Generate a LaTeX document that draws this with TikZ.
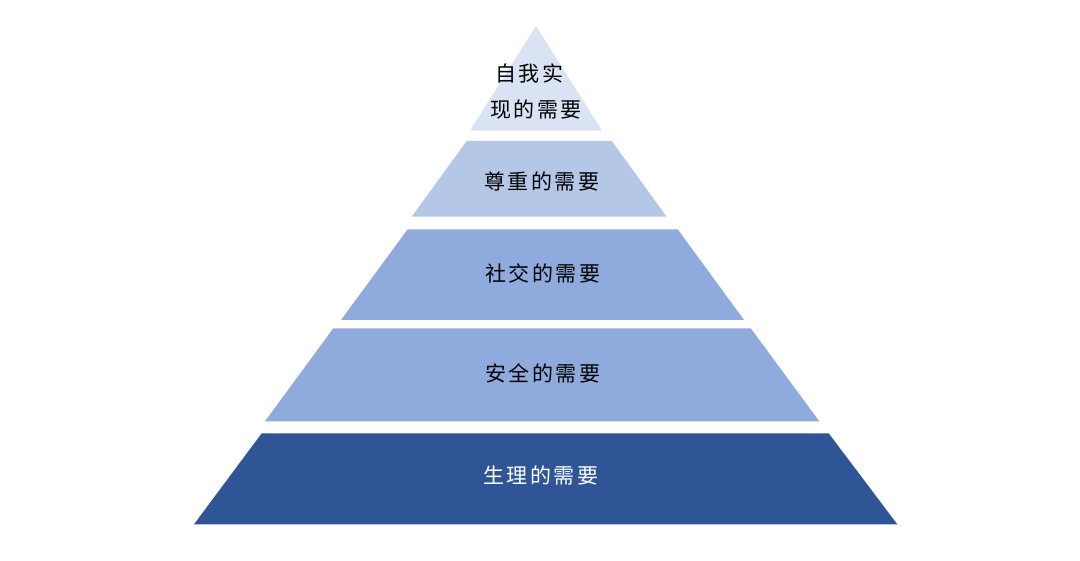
\documentclass[tikz,border=0pt]{standalone}
\usepackage{fontspec}
\newfontfamily\cjk[LetterSpace=12]{Noto Sans CJK SC}
\definecolor{lvA}{HTML}{DAE3F3}
\definecolor{lvB}{HTML}{B4C7E7}
\definecolor{lvC}{HTML}{8FAADC}
\definecolor{lvD}{HTML}{2F5597}
\begin{document}
\begin{tikzpicture}[x=1pt,y=-1pt,
  lbl/.style={font=\cjk\fontsize{21}{27}\selectfont, inner sep=0pt, align=left}]
\useasboundingbox (0,0) rectangle (1080,561);
\fill[white] (0,0) rectangle (1080,561);
% levels
\fill[lvA] (536,26) -- (602,130.7) -- (470,130.7) -- cycle;
\fill[lvB] (466.7,141) -- (611.7,141) -- (666.7,216.7) -- (411.7,216.7) -- cycle;
\fill[lvC] (407.7,229.3) -- (677.7,229.3) -- (744,320) -- (341,320) -- cycle;
\fill[lvC] (333.3,328.3) -- (750.7,328.3) -- (819.3,421.3) -- (265,421.3) -- cycle;
\fill[lvD] (261.7,433.3) -- (828.7,433.3) -- (897.3,524.3) -- (194,524.3) -- cycle;
% labels
\node[lbl, anchor=west] (t1a) at (495,73) {自我实};
\node[lbl, anchor=west] (t1b) at (490,110) {现的需要};
\node[lbl, anchor=west] (t2) at (484,181.7) {尊重的需要};
\node[lbl, anchor=west] (t3) at (485,273.3) {社交的需要};
\node[lbl, anchor=west] (t4) at (485,373.3) {安全的需要};
\node[lbl, anchor=west, text=white] (t5) at (483,475) {生理的需要};
\end{tikzpicture}
\end{document}
